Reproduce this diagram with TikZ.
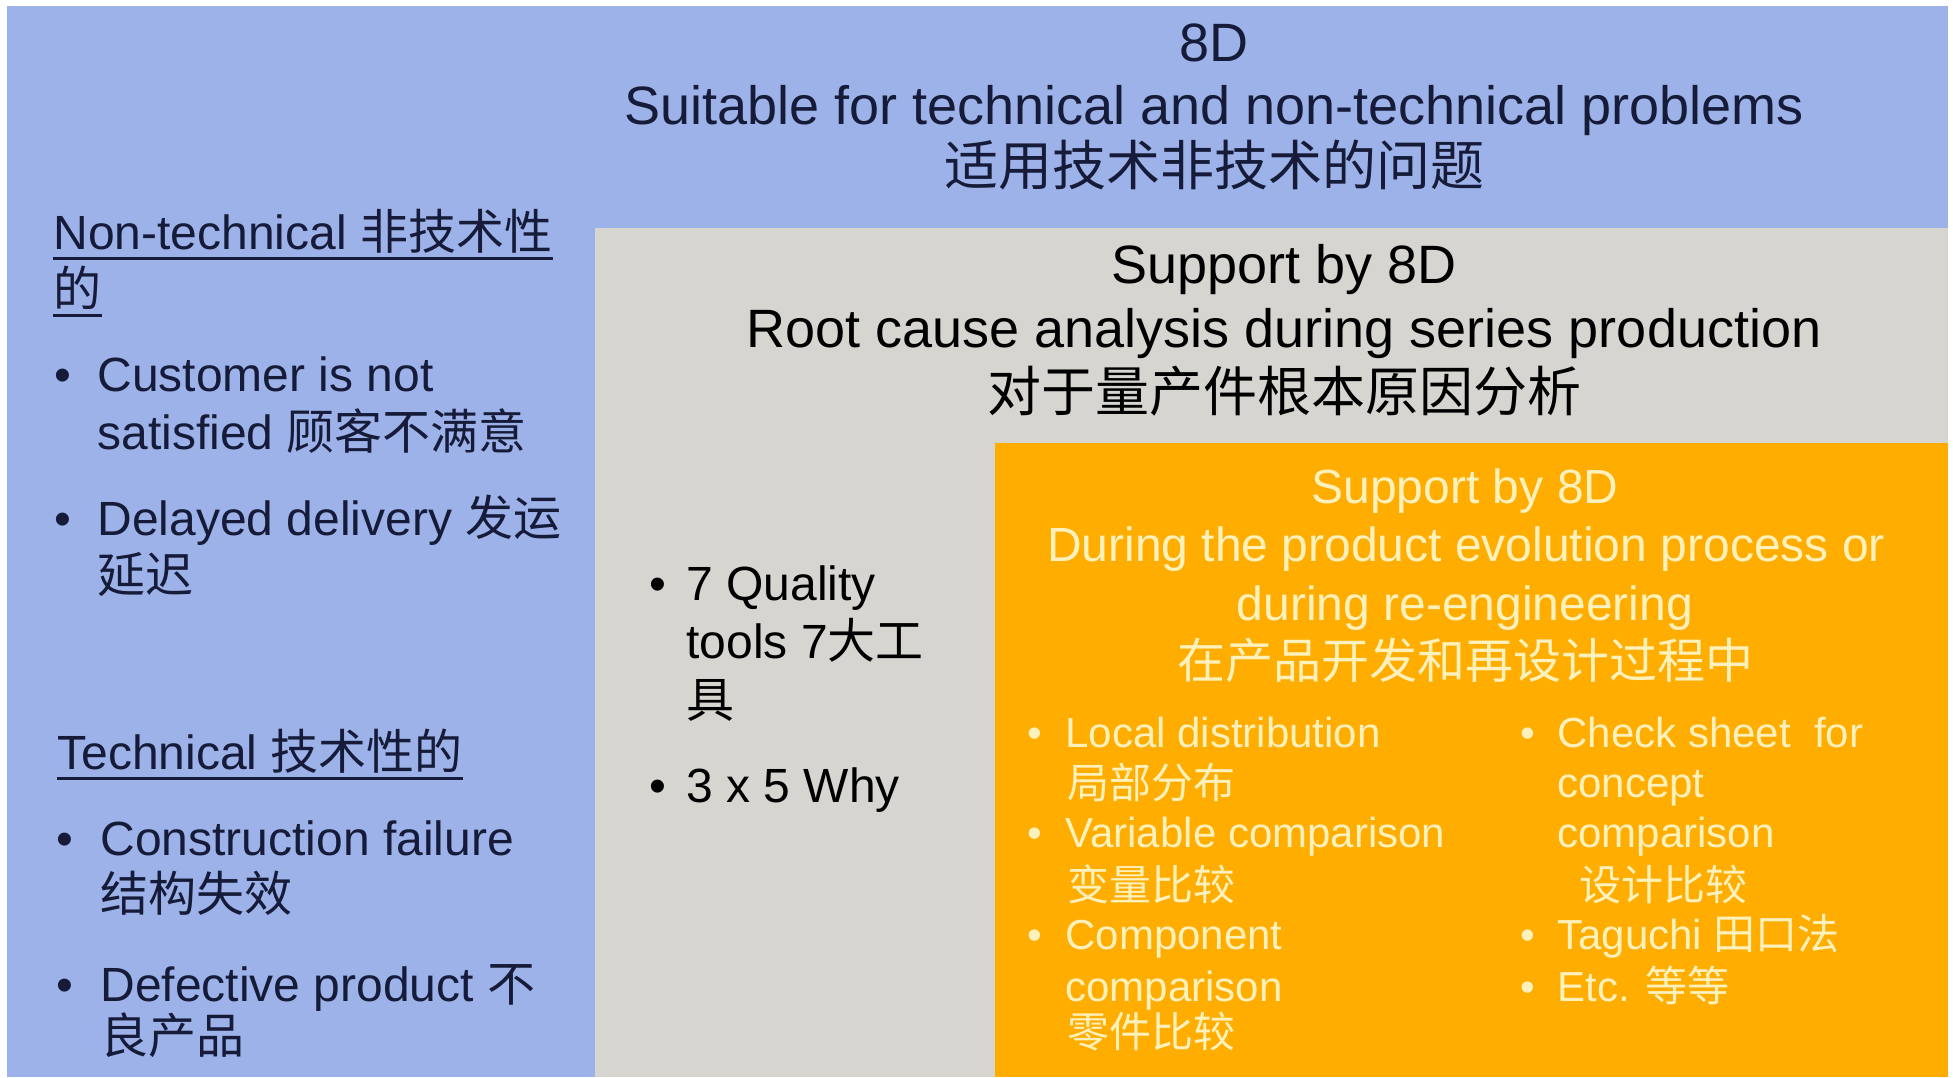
\documentclass[tikz,border=0pt]{standalone}
\usepackage{fontspec}
\setmainfont{Liberation Sans}
\newfontfamily\cjk{Noto Sans CJK SC}

\definecolor{bluebg}{HTML}{9DB2E8}
\definecolor{graybg}{HTML}{D7D5D0}
\definecolor{orangebg}{HTML}{FFAD00}
\definecolor{navytext}{HTML}{151B38}
\definecolor{creamtext}{HTML}{FFF1BC}

% font sizes (1px = 0.5pt)
\newcommand\fsl{\fontsize{27}{32}\selectfont}
\newcommand\fsm{\fontsize{24}{29}\selectfont}
\newcommand\fss{\fontsize{21}{25}\selectfont}
\newcommand\bul[1]{\makebox[#1][l]{\textbullet}}

\begin{document}
\begin{tikzpicture}[x=0.5pt,y=-0.5pt,
    ctr/.style={inner sep=0pt,anchor=base},
    lft/.style={inner sep=0pt,anchor=base west},
    ulin/.style={line width=1.5pt,navytext}]
\useasboundingbox (0,0) rectangle (1953,1077);
\fill[white] (0,0) rectangle (1953,1077);

% the three nested fields
\fill[bluebg] (7,6) rectangle (1948,1077);
\fill[graybg] (595,228) rectangle (1948,1077);
\fill[orangebg] (995,443) rectangle (1948,1077);

% 8D, all problems
\begin{scope}[every node/.style={ctr,text=navytext,font=\fsl}]
\node (top1) at (1214,61) {8D};
\node (top2) at (1214,124) {Suitable for technical and non-technical problems};
\node (top3) at (1214,185) {\cjk 适用技术非技术的问题};
\end{scope}

% left column
\begin{scope}[every node/.style={lft,text=navytext,font=\fsm}]
\node (nt1) at (53,249) {Non-technical {\cjk 非技术性}};
\node (nt2) at (53,306) {\cjk 的};
\node (cus1) at (54,391) {\bul{21.5pt}Customer is not};
\node (cus2) at (97,449) {satisfied {\cjk 顾客不满意}};
\node (del1) at (54,535) {\bul{21.5pt}Delayed delivery {\cjk 发运}};
\node (del2) at (97,592) {\cjk 延迟};
\node (te1) at (57,769) {Technical {\cjk 技术性的}};
\node (con1) at (56,855) {\bul{22pt}Construction failure};
\node (con2) at (100,911) {\cjk 结构失效};
\node (def1) at (56,1001) {\bul{22pt}Defective product {\cjk 不}};
\node (def2) at (100,1053) {\cjk 良产品};
\end{scope}
\draw[ulin] ([yshift=-4.5pt]nt1.base west) -- ([yshift=-4.5pt]nt1.base east);
\draw[ulin] ([yshift=-4.5pt]nt2.base west) -- ([yshift=-4.5pt]nt2.base east);
\draw[ulin] ([yshift=-4.5pt]te1.base west) -- ([yshift=-4.5pt]te1.base east);

% series production
\begin{scope}[every node/.style={ctr,font=\fsl}]
\node (gr1) at (1284,283) {Support by 8D};
\node (gr2) at (1284,347) {Root cause analysis during series production};
\node (gr3) at (1284,411) {\cjk 对于量产件根本原因分析};
\end{scope}
\begin{scope}[every node/.style={lft,font=\fsm}]
\node (qt1) at (649,600) {\bul{18.5pt}7 Quality};
\node (qt2) at (686,658) {tools 7{\cjk 大工}};
\node (qt3) at (686,717) {\cjk 具};
\node (why) at (649,802) {\bul{18.5pt}3 x 5 Why};
\end{scope}

% product evolution
\begin{scope}[every node/.style={ctr,text=creamtext,font=\fsm}]
\node (or1) at (1465,503) {Support by 8D};
\node (or2) at (1466,561) {During the product evolution process or};
\node (or3) at (1465,620) {during re-engineering};
\node (or4) at (1465,678) {\cjk 在产品开发和再设计过程中};
\end{scope}
\begin{scope}[every node/.style={lft,text=creamtext,font=\fss}]
\node (loc1) at (1027,747) {\bul{19pt}Local distribution};
\node (loc2) at (1067,798) {\cjk 局部分布};
\node (var1) at (1027,847) {\bul{19pt}Variable comparison};
\node (var2) at (1067,900) {\cjk 变量比较};
\node (cmp1) at (1027,949) {\bul{19pt}Component};
\node (cmp2) at (1065,1001) {comparison};
\node (cmp3) at (1067,1047) {\cjk 零件比较};
\node (chk1) at (1520,747) {\bul{18.5pt}Check sheet\ \ for};
\node (chk2) at (1557,797) {concept};
\node (chk3) at (1557,847) {comparison};
\node (chk4) at (1579,900) {\cjk 设计比较};
\node (tag) at (1520,949) {\bul{18.5pt}Taguchi {\cjk 田口法}};
\node (etc) at (1520,1001) {\bul{18.5pt}Etc. {\cjk 等等}};
\end{scope}
\end{tikzpicture}
\end{document}
